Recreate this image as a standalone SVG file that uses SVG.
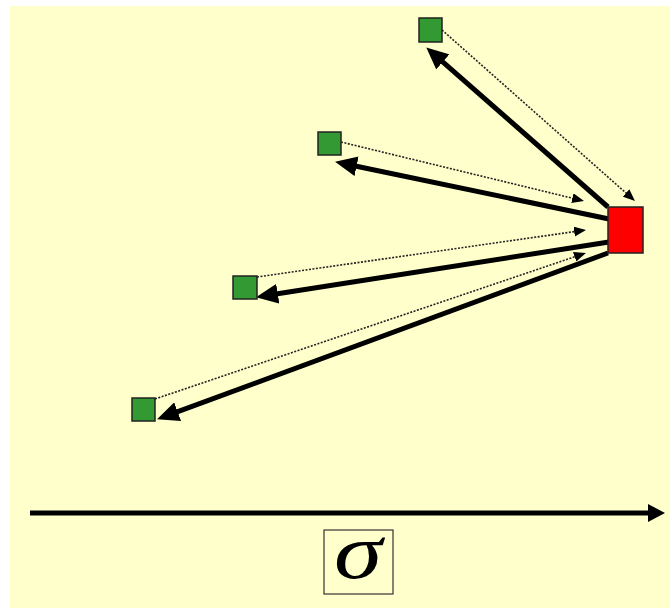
<svg xmlns="http://www.w3.org/2000/svg" width="670" height="609" viewBox="0 0 670 609">
<style>
.bg{fill:#ffffcc}
.g{fill:#339933;stroke:#222;stroke-width:1.5}
.r{fill:#ff0000;stroke:#222;stroke-width:1.5}
.thick{stroke:#000;stroke-width:5;fill:none}
.dot{stroke:#222;stroke-width:1.6;stroke-dasharray:2 1.5;fill:none}
.box{fill:none;stroke:#333;stroke-width:1.2}
.sig{font-family:"Liberation Serif",serif;font-style:italic;font-size:78px;fill:#000}
</style>
<defs>
<marker id="big" markerUnits="userSpaceOnUse" viewBox="0 0 22 20" refX="10" refY="10" markerWidth="22" markerHeight="20" orient="auto">
<path d="M0,0 L22,10 L0,20 z" fill="#000"/>
</marker>
<marker id="small" markerUnits="userSpaceOnUse" viewBox="0 0 12 10" refX="6" refY="5" markerWidth="12" markerHeight="10" orient="auto">
<path d="M0,0 L12,5 L0,10 z" fill="#000"/>
</marker>
<marker id="axis" markerUnits="userSpaceOnUse" viewBox="0 0 17 18" refX="2" refY="9" markerWidth="17" markerHeight="18" orient="auto">
<path d="M0,0 L17,9 L0,18 z" fill="#000"/>
</marker>
</defs>
<rect class="bg" x="10" y="6" width="660" height="602"/>
<g id="connectors">
<line class="thick" x1="608" y1="207" x2="435.3" y2="55.3" marker-end="url(#big)"/>
<line class="thick" x1="609" y1="219" x2="346.8" y2="164.2" marker-end="url(#big)"/>
<line class="thick" x1="609" y1="242" x2="267.9" y2="295.3" marker-end="url(#big)"/>
<line class="thick" x1="608" y1="253" x2="168.3" y2="415.2" marker-end="url(#big)"/>
<line class="dot" x1="442" y1="30" x2="630.5" y2="197" marker-end="url(#small)"/>
<line class="dot" x1="341" y1="142" x2="578.2" y2="199.6" marker-end="url(#small)"/>
<line class="dot" x1="257" y1="277" x2="580.1" y2="230.8" marker-end="url(#small)"/>
<line class="dot" x1="155" y1="399" x2="580.3" y2="254.9" marker-end="url(#small)"/>
<line class="thick" x1="30" y1="513" x2="650" y2="513" marker-end="url(#axis)"/>
</g>
<g id="n1"><rect class="g" x="419" y="18" width="23" height="24"/></g>
<g id="n2"><rect class="g" x="318" y="132" width="23" height="23"/></g>
<g id="n3"><rect class="g" x="233" y="276" width="24" height="23"/></g>
<g id="n4"><rect class="g" x="132" y="398" width="23" height="23"/></g>
<g id="red"><rect class="r" x="608" y="207" width="35" height="46"/></g>
<g id="label">
<rect class="box" x="324" y="530" width="69" height="64"/>
<text class="sig" transform="translate(358,578) scale(1.25,1)" text-anchor="middle">σ</text>
</g>
</svg>
